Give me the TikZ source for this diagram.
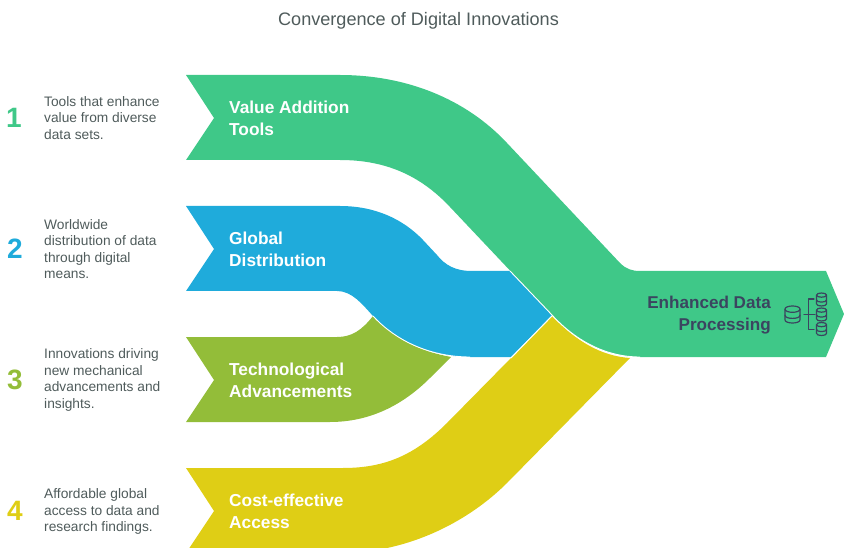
\documentclass[tikz,border=0pt]{standalone}
\usepackage{fontspec}
\setmainfont{Liberation Sans}
\definecolor{cgreen}{HTML}{3FC888}
\definecolor{cblue}{HTML}{1FABDB}
\definecolor{colive}{HTML}{93BD39}
\definecolor{cyellow}{HTML}{DFCE15}
\definecolor{cink}{HTML}{3B4560}
\definecolor{cdesc}{HTML}{4F5B5B}
\tikzset{
  titletext/.style={font=\fontsize{18.1}{20}\selectfont,text=cdesc,inner sep=0pt},
  bandtext/.style={font=\fontsize{17.3}{22}\selectfont\bfseries,text=white,align=left,anchor=west,inner sep=0pt},
  desctext/.style={font=\fontsize{13.75}{16.4}\selectfont,text=cdesc,align=left,anchor=west,inner sep=0pt},
  numtext/.style={font=\fontsize{28}{30}\selectfont\bfseries,inner sep=0pt},
  seam/.style={white,line width=0.9pt},
  iconline/.style={cink,line width=1.2pt,line cap=round,line join=round}
}
% centre x, centre y, half width, half height
\newcommand{\dbcyl}[4]{%
  \draw[iconline] (#1-#3,#2-#4+#3*0.42)
    .. controls (#1-#3,#2-#4-#3*0.14) and (#1+#3,#2-#4-#3*0.14) .. (#1+#3,#2-#4+#3*0.42)
    -- (#1+#3,#2+#4-#3*0.42)
    .. controls (#1+#3,#2+#4+#3*0.14) and (#1-#3,#2+#4+#3*0.14) .. (#1-#3,#2+#4-#3*0.42) -- cycle;
  \draw[iconline] (#1-#3,#2-#4+#3*0.42)
    .. controls (#1-#3,#2-#4+#3*0.98) and (#1+#3,#2-#4+#3*0.98) .. (#1+#3,#2-#4+#3*0.42);
  \draw[iconline] (#1-#3,#2+#3*0.1)
    .. controls (#1-#3,#2+#3*0.66) and (#1+#3,#2+#3*0.66) .. (#1+#3,#2+#3*0.1);
}
\begin{document}
\begin{tikzpicture}[x=1pt,y=-1pt]
\useasboundingbox (0,0) rectangle (844,548);
\clip (0,0) rectangle (844,548);
% olive
\fill[colive] (186,337) -- (337,337) .. controls (352,337) and (362,330) .. (373,316)
  .. controls (397,342) and (425,352) .. (451,357)
  -- (430,378) .. controls (403,405) and (370,422) .. (330,422) -- (186,422) -- (214,380) -- cycle;
% blue
\fill[cblue] (186,206) -- (340,206) .. controls (375,206) and (403,219) .. (423,240)
  -- (437,255) .. controls (445,265) and (455,271) .. (472,271) -- (510,271) -- (552,315) -- (511,357) -- (470,357)
  .. controls (432,357) and (397,342) .. (373,316)
  .. controls (362,304) and (352,291) .. (337,291) -- (186,291) -- (214,249) -- cycle;
\draw[seam] (373,316) .. controls (397,342) and (432,357) .. (470,357);
% yellow
\fill[cyellow] (186,468) -- (343,468) .. controls (385,468) and (415,455) .. (447,423)
  -- (511,358) -- (552,316) .. controls (575,340) and (600,356) .. (630,358)
  -- (507,483) .. controls (470,520) and (410,553) .. (340,553) -- (186,553) -- (214,511) -- cycle;
% green
\fill[cgreen] (186,75) -- (340,75) .. controls (405,75) and (465,98) .. (507,143)
  -- (620,263) .. controls (626,269) and (632,271) .. (640,271) -- (826,271) -- (844,314) -- (826,357)
  -- (640,357) .. controls (605,357) and (575,340) .. (552,315) -- (450,207)
  .. controls (420,175) and (385,160) .. (340,160) -- (186,160) -- (214,118) -- cycle;
\draw[seam] (510,271) -- (552,315) .. controls (575,340) and (605,357) .. (640,357);
\draw[seam] (511,358) -- (552,316);

\node[titletext] (title) at (418.5,21) {Convergence of Digital Innovations};

\node[numtext,text=cgreen] (n1) at (14,118) {1};
\node[numtext,text=cblue] (n2) at (15,249) {2};
\node[numtext,text=colive] (n3) at (15,380) {3};
\node[numtext,text=cyellow] (n4) at (15,511) {4};

\node[desctext] (d1) at (44,118) {Tools that enhance\\value from diverse\\data sets.};
\node[desctext] (d2) at (44,249) {Worldwide\\distribution of data\\through digital\\means.};
\node[desctext] (d3) at (44,380) {Innovations driving\\new mechanical\\advancements and\\insights.};
\node[desctext] (d4) at (44,511.5) {Affordable global\\access to data and\\research findings.};

\node[bandtext] (b1) at (229,118) {Value Addition\\Tools};
\node[bandtext] (b2) at (229,249) {Global\\Distribution};
\node[bandtext] (b3) at (229,380) {Technological\\Advancements};
\node[bandtext] (b4) at (229,511) {Cost-effective\\Access};
\node[bandtext,anchor=east,align=right,text=cink,font=\fontsize{17.1}{22}\selectfont\bfseries] (b5) at (771,315) {Enhanced Data\\Processing};

% icon
\dbcyl{792.5}{314.5}{7.5}{8.5}
\dbcyl{821.5}{299.5}{5}{6.5}
\dbcyl{821.5}{314.5}{5}{6.5}
\dbcyl{821.5}{329}{5}{6.5}
\draw[iconline] (814,299) -- (808.5,299) -- (808.5,329.5) -- (814,329.5);
\draw[iconline] (804,314.5) -- (815,314.5);
\end{tikzpicture}
\end{document}
